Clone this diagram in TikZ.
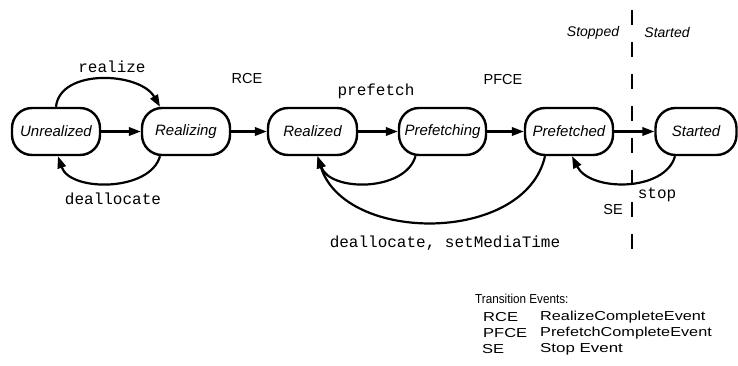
\documentclass[tikz,border=0pt]{standalone}
\usepackage{fontspec}
\usepackage{graphicx}
\setmainfont{Liberation Sans}
\newfontfamily\monofont{Liberation Mono}
\usetikzlibrary{arrows.meta}
\begin{document}
\begin{tikzpicture}[x=1pt,y=-1pt,
  state/.style={draw, line width=2.4pt, rounded corners=20pt, minimum height=47pt,
    inner sep=0pt, font=\fontsize{15}{15}\selectfont\itshape},
  arr/.style={line width=2.2pt, -{Triangle[length=12pt,width=8.5pt]}},
  mlabel/.style={inner sep=0pt, font=\fontsize{16}{16}\selectfont\monofont},
  slabel/.style={inner sep=0pt, font=\fontsize{14.5}{14.5}\selectfont},
  ltext/.style={inner sep=0pt, anchor=west, font=\fontsize{13}{13}\selectfont}]
\useasboundingbox (0,0) rectangle (738,366);

\node[state, minimum width=88pt] (U)  at (56,131.5)  {Unrealized};
\node[state, minimum width=88pt] (Rg) at (186,131.5) {Realizing};
\node[state, minimum width=89pt] (Rd) at (312.5,131.5) {Realized};
\node[state, minimum width=87pt] (P)  at (442.5,131.5) {Prefetching};
\node[state, minimum width=88pt] (Pd) at (569,131.5) {Prefetched};
\node[state, minimum width=81pt] (S)  at (696,131.5) {Started};

\draw[arr] (U.east) -- (Rg.west);
\draw[arr] (Rg.east) -- (Rd.west);
\draw[arr] (Rd.east) -- (P.west);
\draw[arr] (P.east) -- (Pd.west);
\draw[arr] (Pd.east) -- (S.west);

\draw[arr] (U.north) .. controls (60,68) and (140,72) .. ([xshift=-26pt]Rg.north);
\draw[arr] ([xshift=-26pt]Rg.south) .. controls (150,192) and (70,192) .. ([xshift=2pt]U.south);
\draw[arr] ([xshift=-27pt]P.south) .. controls (405,192) and (330,192) .. ([xshift=5pt]Rd.south);
\draw[arr] ([xshift=-24pt]Pd.south) .. controls (525,244) and (345,244) .. ([xshift=5pt]Rd.south);
\draw[arr] ([xshift=-21pt]S.south) .. controls (665,192) and (590,192) .. ([xshift=3pt]Pd.south);

\coordinate (dtop) at (632,10);
\coordinate (dbot) at (632,250);
\draw[line width=1.4pt, dash pattern=on 15pt off 17pt] (dtop) -- (dbot);

\node[mlabel] (lrealize) at (112,67) {realize};
\node[slabel] (lrce) at (247,79) {RCE};
\node[mlabel] (lprefetch) at (376,91) {prefetch};
\node[slabel] (lpfce) at (503,80) {PFCE};
\node[slabel, font=\fontsize{14}{14}\selectfont\itshape] (lstopped) at (593,33) {Stopped};
\node[slabel, font=\fontsize{14}{14}\selectfont\itshape] (lstarted) at (667,33) {Started};
\node[mlabel] (ldealloc) at (113,199) {deallocate};
\node[mlabel] (ldealloc2) at (445,243) {deallocate, setMediaTime};
\node[mlabel] (lstop) at (657,195) {stop};
\node[slabel] (lse) at (613,210) {SE};

\node[ltext] (ltitle) at (475,299) {\scalebox{0.9}[1]{Transition Events:}};
\node[ltext] (k1) at (483,317) {\scalebox{1.27}[1]{RCE}};
\node[ltext] (k2) at (483,333) {\scalebox{1.27}[1]{PFCE}};
\node[ltext] (k3) at (482,349) {\scalebox{1.27}[1]{SE}};
\node[ltext] (v1) at (540,317) {\scalebox{1.25}[1]{RealizeCompleteEvent}};
\node[ltext] (v2) at (540,333) {\scalebox{1.25}[1]{PrefetchCompleteEvent}};
\node[ltext] (v3) at (540,349) {\scalebox{1.3}[1]{Stop Event}};
\end{tikzpicture}
\end{document}
